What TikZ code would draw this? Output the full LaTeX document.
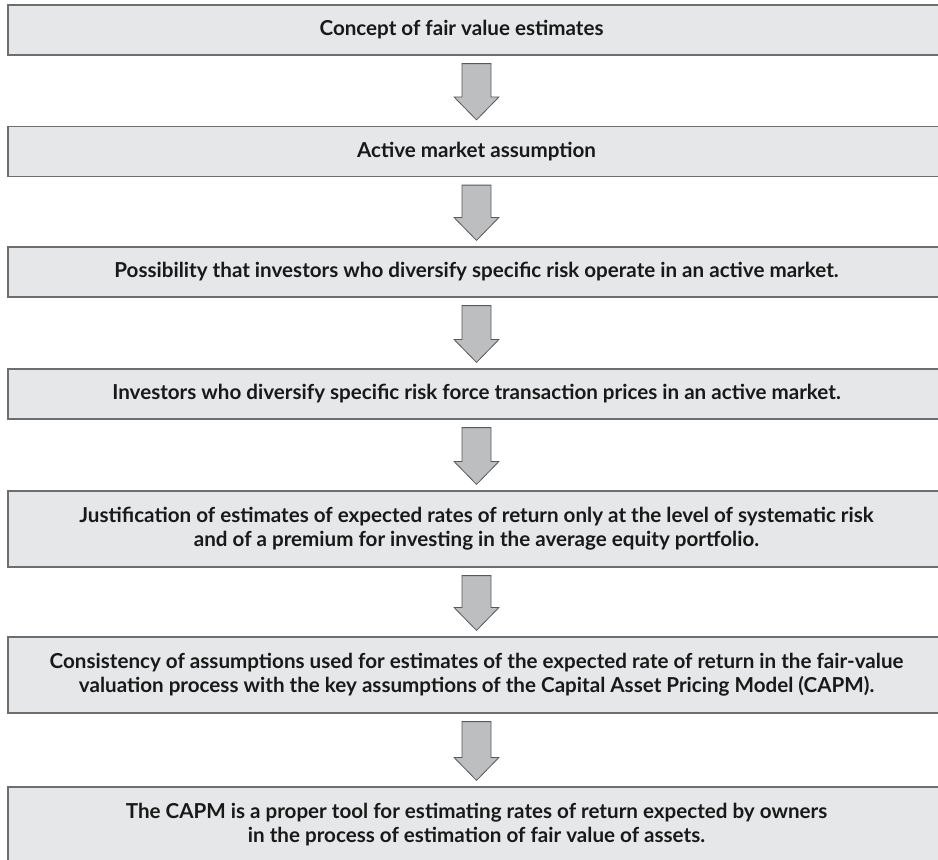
\documentclass[tikz,border=0pt]{standalone}
\usepackage{fontspec}
\setmainfont{Lato}
\usetikzlibrary{calc}
\definecolor{boxfill}{HTML}{E6E7E8}
\definecolor{boxline}{HTML}{6D6E70}
\definecolor{arrfill}{HTML}{BCBEC0}
\definecolor{arrline}{HTML}{58595B}
\tikzset{
  stagebox/.style={draw=boxline, line width=1.2pt, fill=boxfill, minimum width=937pt,
    inner sep=0pt, align=center, text=black!90, font=\fontsize{20.6}{24}\selectfont\bfseries},
  blockarrow/.style={draw=arrline, line width=0.8pt, fill=arrfill, line join=miter}
}
\newcommand\blockarr[2]{%
  \draw[blockarrow] let \p1=($(#1.south)+(0,-8pt)$), \p2=($(#2.north)+(0,6pt)$) in
    (\x1-14.5pt,\y1) -- (\x1+14.5pt,\y1) -- (\x1+14.5pt,\y2+23pt) -- (\x1+22.5pt,\y2+23pt)
    -- (\x1,\y2) -- (\x1-22.5pt,\y2+23pt) -- (\x1-14.5pt,\y2+23pt) -- cycle;}
\begin{document}
\begin{tikzpicture}[x=1pt,y=1pt]
\useasboundingbox (0,0) rectangle (938,-860);
\clip (0,0) rectangle (938,-860);
\node[stagebox, minimum height=50pt] (b1) at (476.5,-30) {Concept of fair value estimates\hspace*{30pt}};
\node[stagebox, minimum height=50pt] (b2) at (476.5,-151.5) {Active market assumption};
\node[stagebox, minimum height=50pt] (b3) at (476.5,-272) {Possibility that investors who diversify specific risk operate in an active market.};
\node[stagebox, minimum height=50pt] (b4) at (476.5,-394) {Investors who diversify specific risk force transaction prices in an active market.};
\node[stagebox, minimum height=76pt] (b5) at (476.5,-529) {Justification of estimates of expected rates of return only at the level of systematic risk\\and of a premium for investing in the average equity portfolio.};
\node[stagebox, minimum height=76pt] (b6) at (476.5,-675) {Consistency of assumptions used for estimates of the expected rate of return in the fair-value\\valuation process with the key assumptions of the Capital Asset Pricing Model (CAPM).};
\node[stagebox, minimum height=76pt] (b7) at (476.5,-825) {The CAPM is a proper tool for estimating rates of return expected by owners\\in the process of estimation of fair value of assets.};
\blockarr{b1}{b2}
\blockarr{b2}{b3}
\blockarr{b3}{b4}
\blockarr{b4}{b5}
\blockarr{b5}{b6}
\blockarr{b6}{b7}
\end{tikzpicture}
\end{document}
